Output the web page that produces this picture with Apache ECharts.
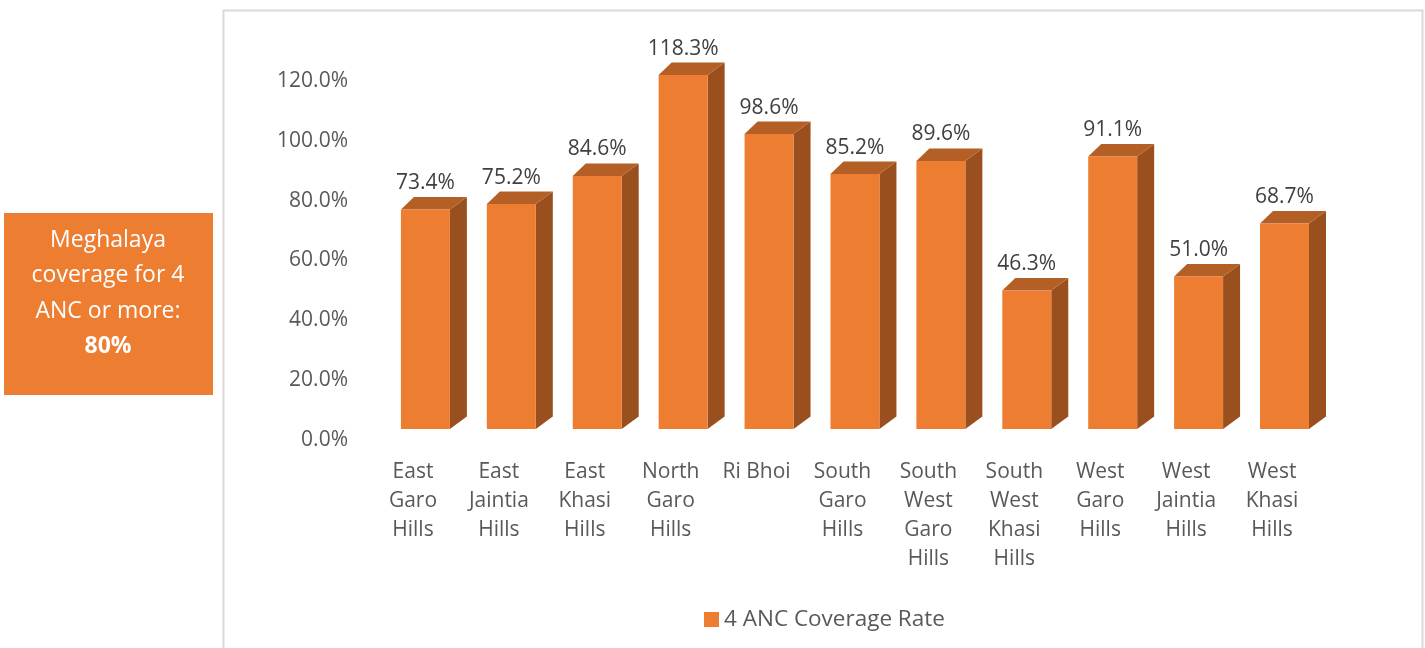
<!DOCTYPE html>
<html>
<head>
<meta charset="utf-8">
<script src="https://cdn.jsdelivr.net/npm/echarts@6/dist/echarts.min.js"></script>
<style>
  html, body { margin: 0; padding: 0; background: #fff; }
  #main { width: 1425px; height: 648px; }
</style>
</head>
<body>
<div id="main"></div>
<script>
/* 4 ANC coverage by district, 3D column look */
var districts = ['East\nGaro\nHills', 'East\nJaintia\nHills', 'East\nKhasi\nHills', 'North\nGaro\nHills', 'Ri Bhoi',
  'South\nGaro\nHills', 'South\nWest\nGaro\nHills', 'South\nWest\nKhasi\nHills', 'West\nGaro\nHills', 'West\nJaintia\nHills', 'West\nKhasi\nHills'];
var coverage = [73.4, 75.2, 84.6, 118.3, 98.6, 85.2, 89.6, 46.3, 91.1, 51.0, 68.7];
var yTicks = [0, 20, 40, 60, 80, 100, 120];
var seriesName = '4 ANC Coverage Rate';
var boxLines = ['Meghalaya', 'coverage for 4', 'ANC or more:'];
var boxValue = '80%';

var FONT = '"Open Sans", sans-serif';
var FRONT = '#ed7d31', TOP = '#b45f25', SIDE = '#9a4f1e';

var chart = echarts.init(document.getElementById('main'));

function renderBar(params, api) {
	var v = api.value(1);
	var base = api.coord([api.value(0), 0]);
	var top = api.coord([api.value(0), v]);
	var band = api.size([1, 0])[0];
	var w = band * 0.57;
	var x0 = base[0] - band * 0.14;
	var yb = base[1] - 11, yt = top[1] - 11;
	var dxL = 13, dxR = 17, dy = 12.5;
	return {
		type: 'group',
		children: [{
			type: 'polygon',
			shape: { points: [[x0 + w, yt], [x0 + w + dxR, yt - dy], [x0 + w + dxR, yb - dy], [x0 + w, yb]] },
			style: { fill: SIDE }
		}, {
			type: 'polygon',
			shape: { points: [[x0, yt], [x0 + dxL, yt - dy], [x0 + w + dxR, yt - dy], [x0 + w, yt]] },
			style: { fill: TOP }
		}, {
			type: 'rect',
			shape: { x: x0, y: yt, width: w, height: yb - yt },
			style: { fill: FRONT }
		}, {
			type: 'text',
			x: x0 + w / 2,
			y: yt - dy - 14,
			style: {
				text: v.toFixed(1) + '%',
				fill: '#404040',
				font: '21px ' + FONT,
				align: 'center',
				verticalAlign: 'middle'
			}
		}]
	};
}

var boxText = [];
for (var i = 0; i < boxLines.length; i++) {
	boxText.push({
		type: 'text',
		x: 108, y: 240 + i * 35.5,
		style: { text: boxLines[i], fill: '#fff', font: '23px ' + FONT, align: 'center', verticalAlign: 'middle' }
	});
}
boxText.push({
	type: 'text',
	x: 108, y: 346,
	style: { text: boxValue, fill: '#fff', font: 'bold 23px ' + FONT, align: 'center', verticalAlign: 'middle' }
});

chart.setOption({
	animation: false,
	textStyle: { fontFamily: FONT },
	grid: { left: 370, right: 110, top: 81, bottom: 208 },
	legend: {
		left: 699, top: 603,
		icon: 'rect',
		itemWidth: 15, itemHeight: 15, itemGap: 6,
		textStyle: { fontSize: 22.5, color: '#595959', fontFamily: FONT },
		data: [seriesName]
	},
	xAxis: {
		type: 'category',
		data: districts,
		axisLine: { show: false },
		axisTick: { show: false },
		axisLabel: {
			interval: 0, margin: 18,
			fontSize: 21, lineHeight: 29, color: '#595959', fontFamily: FONT
		}
	},
	yAxis: {
		type: 'value',
		min: yTicks[0], max: yTicks[yTicks.length - 1], interval: 20,
		splitLine: { show: false },
		axisLine: { show: false },
		axisTick: { show: false },
		axisLabel: {
			margin: 22, fontSize: 21, color: '#595959', fontFamily: FONT,
			formatter: function(v) { return v.toFixed(1) + '%'; }
		}
	},
	series: [{
		name: seriesName,
		type: 'custom',
		itemStyle: { color: FRONT },
		renderItem: renderBar,
		encode: { x: 0, y: 1 },
		data: coverage.map(function(v, i) { return [i, v]; })
	}],
	graphic: [{
		type: 'rect',
		shape: { x: 223.5, y: 10.5, width: 1199, height: 700 },
		style: { fill: 'none', stroke: '#d9d9d9', lineWidth: 2 },
		z: -1
	}, {
		type: 'rect',
		shape: { x: 4, y: 213, width: 209, height: 182 },
		style: { fill: FRONT }
	}].concat(boxText)
});
</script>
</body>
</html>
